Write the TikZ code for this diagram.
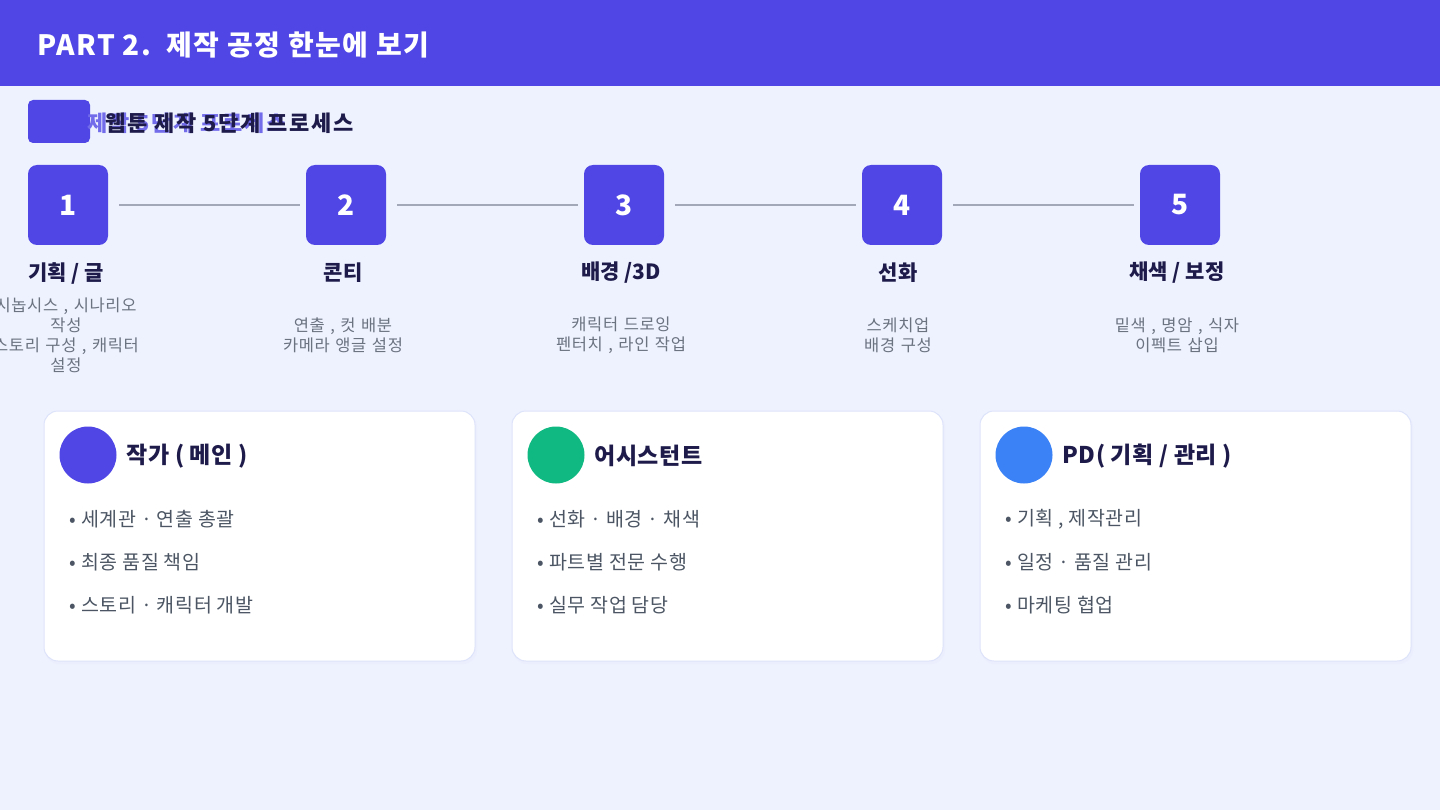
\documentclass[tikz,border=0pt]{standalone}
\usepackage{fontspec}
\setmainfont{Noto Sans CJK KR}
\begin{document}
\begin{tikzpicture}[x=1pt,y=-1pt,
  stepbox/.style={draw=none,fill=brand,rounded corners=9pt,minimum size=80pt,text=white,font=\fontsize{28}{28}\selectfont\bfseries},
  steptitle/.style={text=ink,font=\fontsize{21}{22}\selectfont\bfseries},
  stepdesc/.style={text=gray1,align=center,text width=170pt,font=\fontsize{16.5}{20}\selectfont\addfontfeature{LetterSpace=4}},
  conn/.style={draw=line1,line width=1.5pt},
  card/.style={fill=white,draw=cardb,line width=1pt,rounded corners=14pt},
  cardtitle/.style={anchor=west,text=ink,font=\fontsize{23}{24}\selectfont\bfseries\addfontfeature{LetterSpace=2}},
  bul/.style={anchor=west,text=gray2,font=\fontsize{19.5}{20}\selectfont\addfontfeature{LetterSpace=3}}]
\definecolor{brand}{HTML}{4F46E5}
\definecolor{bg}{HTML}{EEF2FF}
\definecolor{ink}{HTML}{1E1B4B}
\definecolor{gray1}{HTML}{6B7280}
\definecolor{gray2}{HTML}{4B5563}
\definecolor{line1}{HTML}{A3A8B8}
\definecolor{cardb}{HTML}{DDE3FA}
\definecolor{green1}{HTML}{10B981}
\definecolor{blue1}{HTML}{3B82F6}
\fill[bg] (0,0) rectangle (1440,810);
\useasboundingbox (0,0) rectangle (1440,810);
\fill[brand] (0,0) rectangle (1440,86);
\node[anchor=west,text=white,font=\fontsize{28}{30}\selectfont\bfseries\addfontfeature{LetterSpace=5}] (title) at (34,45) {PART 2.\ \ 제작 공정 한눈에 보기};
\fill[brand,rounded corners=5pt] (28,100) rectangle (90,143);
\node[anchor=west,text=brand!80,font=\fontsize{22}{22}\selectfont\bfseries\addfontfeature{LetterSpace=8}] (subbg) at (84,123) {제작 5단계 프로세스};
\node[anchor=west,text=ink,font=\fontsize{22}{22}\selectfont\bfseries\addfontfeature{LetterSpace=8}] (sub) at (102,123) {웹툰 제작 5단계 프로세스};
\foreach \i/\x in {1/68,2/346,3/624,4/902,5/1180}{
  \node[stepbox] (s\i) at (\x,205) {\i};
}
\foreach \a/\b in {1/2,2/3,3/4,4/5}{ \draw[conn] ([xshift=11pt]s\a.east) -- ([xshift=-6pt]s\b.west); }
\node[steptitle] (t1) at (66,273) {기획 / 글};
\node[steptitle] (t2) at (343,273) {콘티};
\node[steptitle] (t3) at (621,273) {배경 /3D};
\node[steptitle] (t4) at (898,273) {선화};
\node[steptitle] (t5) at (1177,273) {채색 / 보정};
\node[stepdesc] (d1) at (66,335) {시놉시스 , 시나리오\\작성\\스토리 구성 , 캐릭터\\설정};
\node[stepdesc] (d2) at (343,335) {연출 , 컷 배분\\카메라 앵글 설정};
\node[stepdesc] (d3) at (621,335) {캐릭터 드로잉\\펜터치 , 라인 작업};
\node[stepdesc] (d4) at (898,335) {스케치업\\배경 구성};
\node[stepdesc] (d5) at (1177,335) {밑색 , 명암 , 식자\\이펙트 삽입};
\foreach \k/\x/\c/\t/\ba/\bb/\bc in {
  1/44/brand/{작가 ( 메인 )}/{세계관 · 연출 총괄}/{최종 품질 책임}/{스토리 · 캐릭터 개발},
  2/512/green1/{어시스턴트}/{선화 · 배경 · 채색}/{파트별 전문 수행}/{실무 작업 담당},
  3/980/blue1/{PD( 기획 / 관리 )}/{기획 ,  제작관리}/{일정 · 품질 관리}/{마케팅 협업}}{
  \fill[cardb!60,rounded corners=14pt] ({\x+1},413) rectangle ({\x+433},664);
  \draw[card] (\x,411) rectangle ({\x+431},661);
  \node[circle,fill=\c,minimum size=57pt,inner sep=0pt] (c\k) at ({\x+44},455) {};
  \node[cardtitle] (ct\k) at ({\x+79},456) {\t};
  \node[bul] (b\k a) at ({\x+22},519) {• \ba};
  \node[bul] (b\k b) at ({\x+22},562) {• \bb};
  \node[bul] (b\k c) at ({\x+22},605) {• \bc};
}
\end{tikzpicture}
\end{document}
